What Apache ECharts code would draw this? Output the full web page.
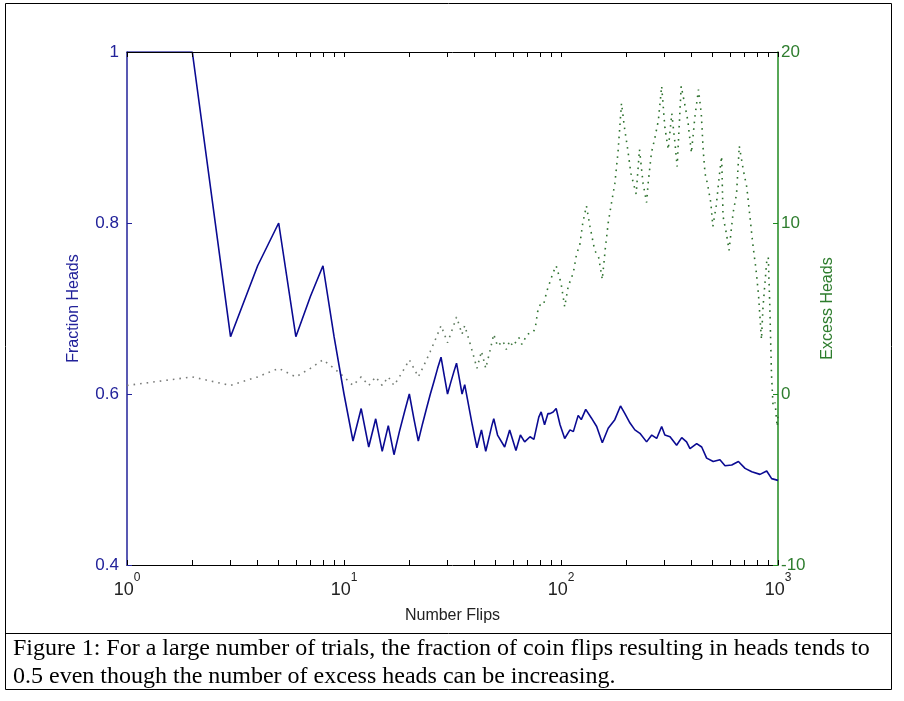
<!DOCTYPE html>
<html><head><meta charset="utf-8">
<script src="https://cdn.jsdelivr.net/npm/echarts@6/dist/echarts.min.js"></script>
<style>html,body{margin:0;padding:0;background:#fff}#c{width:904px;height:701px}</style>
</head><body><div id="c"></div>
<script>
// Number of flips (x) and fraction of heads (left axis)
const flipsBlue = [1,2,3,4,5,6,7,8,9,10,11,12,13,14,15,16,17,18,19,20,21,22,23,24,25,26,27,28,29,30,31,32,33,34,35,36,37,38,39,40,41,42,43,44,45,46,47,48,49,
  51,55,58,62,65,68,72,75,79,81,84,87,89,92,95,99,
  104,110,114,120,124,130,138,146,155,165,177,188,197,208,219,231,248,262,276,291,301,318,341,360,379,393,422,445,469,503,540,570,612,657,705,757,826,887,935,1000];
const fractionHeads = [1,1,0.667,0.75,0.8,0.667,0.714,0.75,0.667,0.6,
  0.545,0.583,0.538,0.571,0.533,0.563,0.529,0.556,0.579,0.6,
  0.571,0.545,0.565,0.583,0.6,0.615,0.63,0.643,0.621,0.6,
  0.613,0.625,0.636,0.618,0.6,0.611,0.595,0.579,0.564,0.55,
  0.537,0.548,0.558,0.545,0.533,0.543,0.553,0.563,0.571,
  0.552,0.538,0.558,0.534,0.552,0.544,0.55,0.547,0.573,0.579,0.564,0.577,0.577,0.579,0.583,0.564,
  0.548,0.558,0.556,0.575,0.57,0.582,0.572,0.562,0.543,0.56,0.57,0.586,0.577,0.566,0.558,0.554,0.544,0.552,0.548,0.562,
  0.552,0.55,0.54,0.549,0.544,0.536,0.542,0.538,0.525,0.521,0.523,0.516,0.517,0.521,0.513,0.509,0.506,0.51,0.501,0.499];

// Number of flips (x) and excess heads (right axis)
const flipsGreen = [1,2,3,4,5,6,7,8,9,10,11,12,13,14,15,16,17,18,19,20,21,22,23,24,25,26,27,28,29,30,31,32,33,34,35,36,37,38,39,40,41,42,43,44,45,46,47,48,49,
  51,54,56,58,60,64,66,70,74,76,78,80,83,86,92,95,100,104,108,114,
  118,122,126,131,136,143,149,155,160,165,170,177,183,190,196,203,210,222,230,239,
  248,252,261,270,281,291,301,312,324,335,343,358,371,384,399,414,430,443,452,461,
  473,490,501,519,540,550,558,578,595,621,644,663,692,718,742,768,790,812,839,853,
  888,902,917,933,949,970,984,992,1000];
const excessHeads = [0.5,1,0.5,1,1.5,1,1.5,2,1.5,1,
  0.5,1,0.5,1,0.5,1,0.5,1,1.5,2,
  1.5,1,1.5,2,2.5,3,3.5,4,3.5,3,
  3.5,4,4.5,4,3.5,4,3.5,3,2.5,2,
  1.5,2,2.5,2,1.5,2,2.5,3,3.5,
  2.8,3.1,2.6,3.1,2.8,3.3,2.9,3.5,3.6,3.8,4.8,5.2,5.2,6,7.1,7.5,6.5,5.1,6.3,7.1,
  8.2,8.7,10,11,9.8,8.4,8,6.7,8.5,10,11,12.3,14.1,17,15.6,14.3,12.9,11.7,14.3,12.3,
  11.2,12.3,14.1,14.9,16,18,15.6,14.3,16.4,14.7,13.3,18,17,16,14.1,16.2,17.8,16.4,14.3,12.9,
  12.3,11.2,9.8,11,13.1,13.9,10.4,9.4,8.4,10.6,11.7,14.5,13.1,12.1,10.4,8.6,7.4,5.9,3.2,5.1,
  7.8,8,5.1,1.2,-0.7,-0.5,-1.5,-1.9,-1.3];

// Axis ticks
const xLabelTicks = [1,10,100,1000];
const xTicks = [1,2,3,4,5,6,7,8,9,10,20,30,40,50,60,70,80,90,100,200,300,400,500,600,700,800,900,1000];
const leftRange = [0.4, 1, 0.2];
const rightRange = [-10, 20, 10];

const captionLines = [
  'Figure 1: For a large number of trials, the fraction of coin flips resulting in heads tends to',
  '0.5 even though the number of excess heads can be increasing.'
];

const BLUE_AX = '#22229a', BLUE_LINE = '#0a0a92', GREEN_AX = '#1f8a1f', GREEN_TXT = '#2e7d2e';
const sans = '"Liberation Sans", Arial, sans-serif';

const blueData = flipsBlue.map((n, i) => [n, fractionHeads[i]]);
const greenData = flipsGreen.map((n, i) => [n, excessHeads[i]]);

const chart = echarts.init(document.getElementById('c'), null, {renderer: 'canvas'});
const xCommon = {
  type: 'log', logBase: 10, min: 1, max: 1000,
  splitLine: {show: false}, minorTick: {show: false},
  axisLine: {show: true, onZero: false, lineStyle: {color: '#000', width: 1}}
};
const greenDotColor = new echarts.graphic.LinearGradient(0, 0, 1, 0, [
  {offset: 0, color: '#7c7c7c'}, {offset: 0.45, color: '#747c74'},
  {offset: 0.62, color: '#2f7430'}, {offset: 1, color: '#2a6e2a'}
]);
chart.setOption({
  animation: false,
  backgroundColor: '#fff',
  grid: {left: 127, right: 126, top: 52, bottom: 136, containLabel: false},
  xAxis: [
    Object.assign({}, xCommon, {
      position: 'bottom',
      axisTick: {show: true, inside: true, length: 5, customValues: xTicks, lineStyle: {color: '#000'}},
      axisLabel: {
        customValues: xLabelTicks, margin: 7, color: '#222',
        formatter: v => '{b|10}{s|' + Math.round(Math.log10(v)) + '}',
        rich: {
          b: {fontSize: 18, fontFamily: sans, color: '#222', padding: [9, 0, 0, 0], verticalAlign: 'bottom'},
          s: {fontSize: 12, fontFamily: sans, color: '#222', verticalAlign: 'top'}
        }
      },
      name: 'Number Flips', nameLocation: 'middle', nameGap: 43,
      nameTextStyle: {fontSize: 16, fontFamily: sans, color: '#222'}
    }),
    Object.assign({}, xCommon, {
      position: 'top', z: 10, zlevel: 1,
      axisTick: {show: true, inside: true, length: 5, customValues: xTicks, lineStyle: {color: '#000'}},
      axisLabel: {show: false}
    })
  ],
  yAxis: [
    {
      type: 'value', position: 'left', min: leftRange[0], max: leftRange[1], interval: leftRange[2],
      splitLine: {show: false},
      axisLine: {show: true, onZero: false, lineStyle: {color: BLUE_AX, width: 1.5}},
      axisTick: {show: true, inside: true, length: 5, lineStyle: {color: BLUE_AX}},
      axisLabel: {color: BLUE_AX, fontSize: 17, fontFamily: sans, margin: 8},
      name: 'Fraction Heads', nameLocation: 'middle', nameGap: 45, nameRotate: 90,
      nameTextStyle: {color: BLUE_AX, fontSize: 16, fontFamily: sans}
    },
    {
      type: 'value', position: 'right', min: rightRange[0], max: rightRange[1], interval: rightRange[2],
      splitLine: {show: false},
      axisLine: {show: true, onZero: false, lineStyle: {color: GREEN_AX, width: 1.5}},
      axisTick: {show: true, inside: true, length: 5, lineStyle: {color: GREEN_AX}},
      axisLabel: {color: GREEN_TXT, fontSize: 17, fontFamily: sans, margin: 3},
      name: 'Excess Heads', nameLocation: 'middle', nameGap: 42, nameRotate: 90,
      nameTextStyle: {color: GREEN_TXT, fontSize: 16, fontFamily: sans}
    }
  ],
  series: [
    {
      type: 'line', name: 'Excess Heads', xAxisIndex: 0, yAxisIndex: 1, data: greenData,
      showSymbol: false, symbol: 'none', z: 2,
      lineStyle: {color: greenDotColor, width: 1.6, type: [1.6, 5], cap: 'butt'}
    },
    {
      type: 'line', name: 'Fraction Heads', xAxisIndex: 0, yAxisIndex: 0, data: blueData,
      showSymbol: false, symbol: 'none', z: 3,
      lineStyle: {color: BLUE_LINE, width: 1.6}
    }
  ],
  graphic: [
    {type: 'rect', silent: true, z: 100, shape: {x: 5.5, y: 3.5, width: 886, height: 686},
     style: {fill: null, stroke: '#000', lineWidth: 1}},
    {type: 'line', silent: true, z: 100, shape: {x1: 5.5, y1: 633.5, x2: 891.5, y2: 633.5},
     style: {stroke: '#000', lineWidth: 1}},
    {type: 'text', silent: true, z: 100, style: {text: captionLines[0], x: 13, y: 649, verticalAlign: 'middle',
      font: '24px "Liberation Serif", "Times New Roman", serif', fill: '#000'}},
    {type: 'text', silent: true, z: 100, style: {text: captionLines[1], x: 13, y: 677, verticalAlign: 'middle',
      font: '24px "Liberation Serif", "Times New Roman", serif', fill: '#000'}}
  ]
});
</script>
</body></html>
